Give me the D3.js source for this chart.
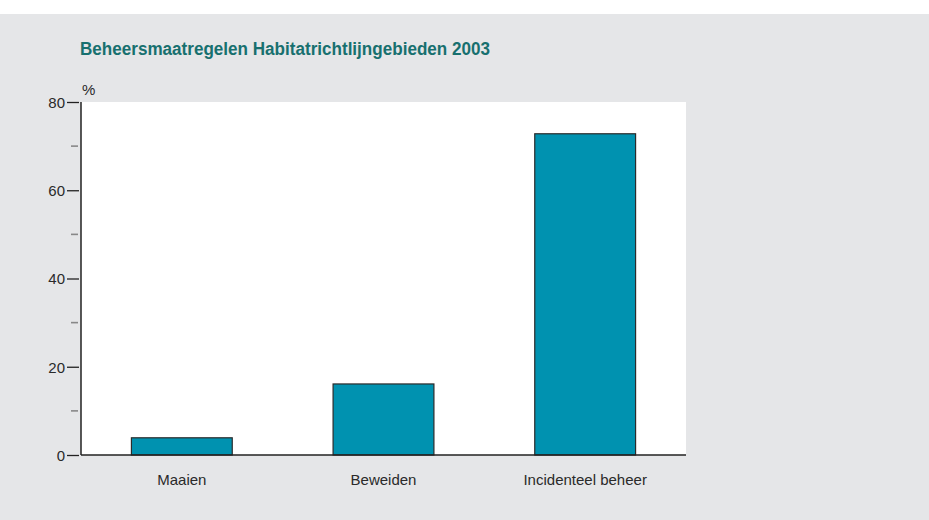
<!DOCTYPE html>
<html>
<head>
<meta charset="utf-8">
<script src="https://cdn.jsdelivr.net/npm/d3@7"></script>
<style>
  body { margin: 0; background: #fff; }
  svg text { font-family: "Liberation Sans", Arial, sans-serif; }
</style>
</head>
<body>
<div id="chart-area"></div>
<script>
// Data
var categories = ["Maaien", "Beweiden", "Incidenteel beheer"];
var values = [3.9, 16.1, 72.8];
var majorTicks = [0, 20, 40, 60, 80];
var minorTicks = [10, 30, 50, 70];
var title = "Beheersmaatregelen Habitatrichtlijngebieden 2003";

var W = 929, H = 520;
var margin = { left: 81, top: 102, right: 243, bottom: 65 };
var width = W - margin.left - margin.right;   // 605
var height = H - margin.top - margin.bottom;  // 353

var svg = d3.select("#chart-area").append("svg")
    .attr("width", W)
    .attr("height", H);

// gray panel
svg.append("rect")
    .attr("x", 0).attr("y", 14)
    .attr("width", W).attr("height", H - 14)
    .attr("fill", "#e5e6e8");

svg.append("text")
    .attr("x", 80)
    .attr("y", 55)
    .attr("font-size", "18px")
    .attr("font-weight", "bold")
    .attr("fill", "#17706f")
    .attr("textLength", 410)
    .attr("lengthAdjust", "spacingAndGlyphs")
    .text(title);

var g = svg.append("g")
    .attr("transform", "translate(" + margin.left + "," + margin.top + ")");

// plot area
g.append("rect")
    .attr("width", width).attr("height", height)
    .attr("fill", "#fff");

var x = d3.scaleBand()
    .domain(categories)
    .range([0, width])
    .paddingInner(0.5)
    .paddingOuter(0.25);

var y = d3.scaleLinear()
    .domain([0, 80])
    .range([height, 0]);

// bars
g.selectAll(".bar")
    .data(values)
    .enter().append("rect")
    .attr("class", "bar")
    .attr("x", function(d, i) { return x(categories[i]); })
    .attr("y", function(d) { return y(d); })
    .attr("width", x.bandwidth())
    .attr("height", function(d) { return height - y(d); })
    .attr("fill", "#0092b0")
    .attr("stroke", "#2b2b2b")
    .attr("stroke-width", 1.2);

// y axis - major ticks
var yAxisCall = d3.axisLeft(y)
    .tickValues(majorTicks)
    .tickSize(12)
    .tickPadding(2);
var yAxis = g.append("g")
    .attr("class", "y axis")
    .attr("transform", "translate(-2,0)")
    .call(yAxisCall);
yAxis.select(".domain").remove();
yAxis.selectAll(".tick line").attr("stroke", "#222").attr("stroke-width", 1.3);
yAxis.selectAll(".tick text")
    .attr("font-size", "15px")
    .attr("fill", "#2a2a2a")
    .attr("dy", "0.35em");

// minor ticks
g.selectAll(".minor")
    .data(minorTicks)
    .enter().append("line")
    .attr("class", "minor")
    .attr("x1", -10).attr("x2", -3)
    .attr("y1", function(d) { return y(d); })
    .attr("y2", function(d) { return y(d); })
    .attr("stroke", "#888")
    .attr("stroke-width", 1.6);

// axis lines
g.append("line")
    .attr("x1", 0).attr("x2", 0)
    .attr("y1", 0).attr("y2", height)
    .attr("stroke", "#222").attr("stroke-width", 1.5);
g.append("line")
    .attr("x1", 0).attr("x2", width)
    .attr("y1", height).attr("y2", height)
    .attr("stroke", "#222").attr("stroke-width", 1.5);

// x labels
var xAxisCall = d3.axisBottom(x).tickSize(0).tickPadding(19);
var xAxis = g.append("g")
    .attr("class", "x axis")
    .attr("transform", "translate(0," + height + ")")
    .call(xAxisCall);
xAxis.select(".domain").remove();
xAxis.selectAll(".tick text")
    .attr("font-size", "15px")
    .attr("fill", "#2a2a2a");

// unit label
g.append("text")
    .attr("x", 1)
    .attr("y", -7)
    .attr("font-size", "15px")
    .attr("fill", "#2a2a2a")
    .text("%");
</script>
</body>
</html>
